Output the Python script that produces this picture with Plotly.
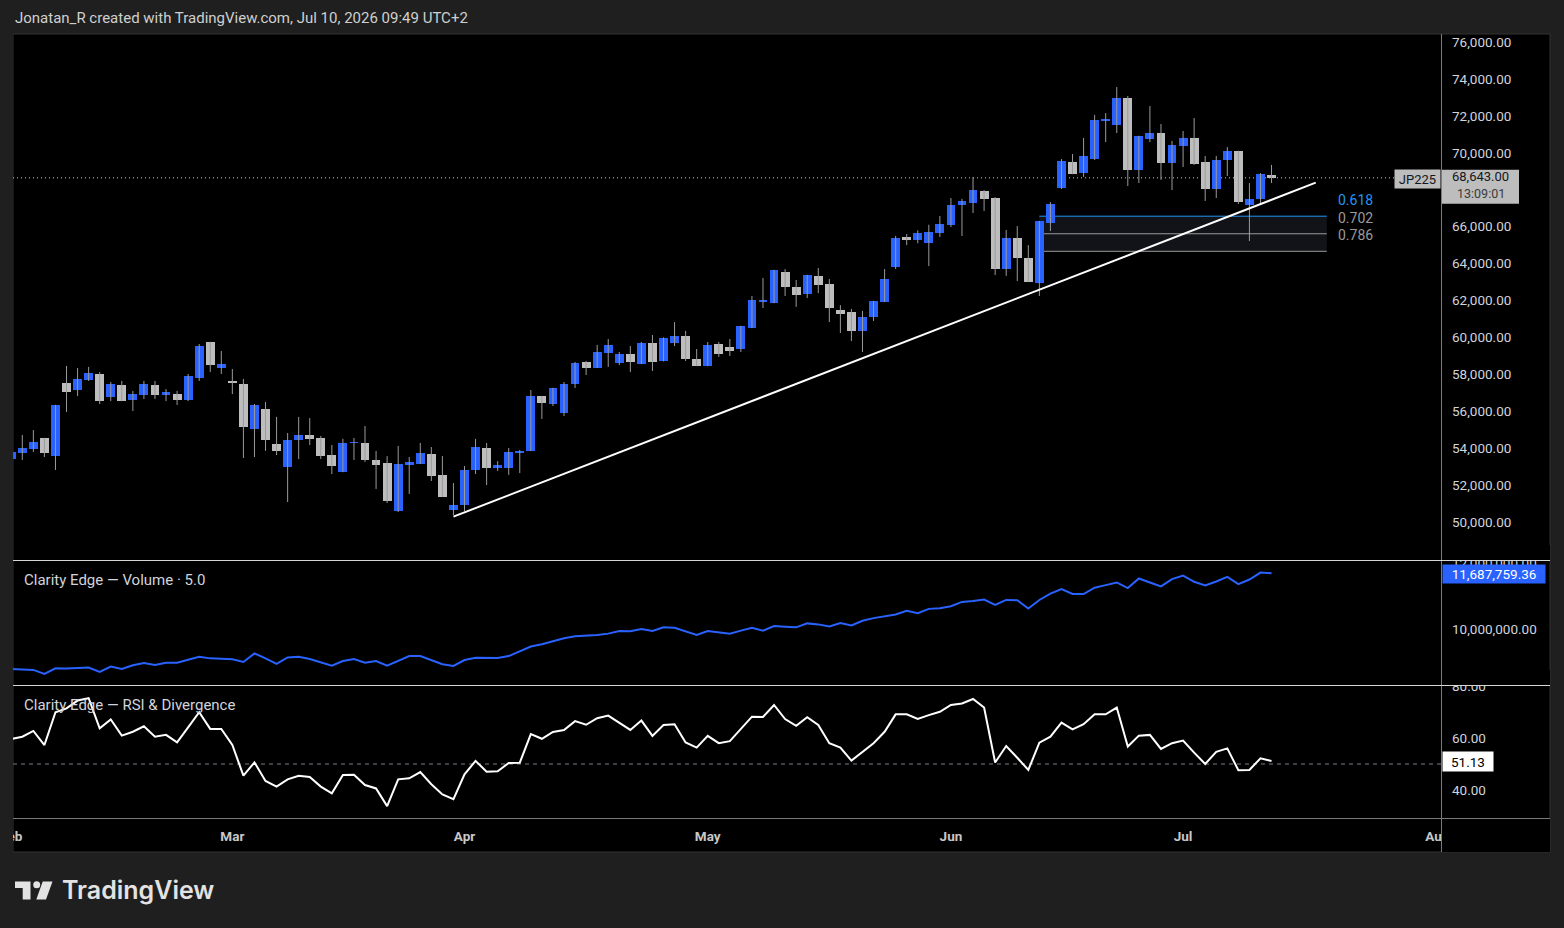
import plotly.graph_objects as go

W, H = 1564, 928


def X(px):
    return px / W


def Y(py):
    return 1 - py / H


# ---------------- data ----------------
months = ["Feb", "Mar", "Apr", "May", "Jun", "Jul", "Aug"]
month_idx = [0, 20, 41, 63, 85, 106, 129]

opens = [53430, 53740, 53950, 54550, 53570, 57530, 57150, 57690, 58020, 56770,
         57420, 56610, 56880, 57420, 56880, 56930, 56610, 57800, 59750, 58340,
         57590, 57470, 55040, 56120, 54220, 52980, 54440, 54710, 54550, 53630,
         52710, 54280, 54280, 53360, 53190, 50590, 53090, 53140, 53680, 52540,
         50650, 50920, 52820, 54010, 52920, 52920, 53760, 53850, 56820, 56390,
         55900, 57470, 58670, 58340, 59150, 58610, 59100, 58560, 59700, 58720,
         59700, 60080, 58830, 58450, 59640, 59480, 59370, 60510, 61950, 61860,
         63540, 62730, 62350, 63330, 62890, 61480, 61370, 60350, 61100, 61920,
         63810, 65440, 65280, 65110, 65670, 66090, 67170, 67280, 67930, 67550,
         63700, 65380, 64300, 62950, 66200, 68090, 69500, 68900, 69660, 71740,
         71500, 72970, 69070, 70750, 71070, 69450, 70370, 70800, 69500, 68040,
         69610, 70100, 67170, 67500, 68800]
highs = [53850, 54710, 54980, 54560, 56350, 58450, 58340, 58400, 58120, 57580,
         57640, 57100, 57640, 57640, 57200, 57100, 58020, 59640, 59760, 59260,
         58290, 57750, 56390, 56500, 55690, 54820, 55690, 55630, 54660, 54170,
         54500, 54550, 55200, 53850, 53570, 54120, 53520, 54280, 54060, 53570,
         52110, 53030, 54500, 54280, 53300, 54010, 53900, 57150, 56830, 57270,
         57580, 58670, 58720, 59590, 59910, 59210, 59530, 59750, 60130, 60000,
         60830, 60350, 59370, 59750, 59750, 59910, 60630, 62240, 63220, 63660,
         63700, 63110, 63390, 63760, 63160, 61750, 61540, 61430, 61980, 63700,
         65500, 65600, 65800, 66100, 66570, 67550, 67500, 68690, 67980, 67600,
         65820, 66030, 65000, 66310, 67330, 69660, 69930, 70800, 72050, 72150,
         73560, 73080, 70920, 72530, 71560, 70640, 71180, 71880, 69830, 69830,
         70310, 70110, 68360, 68900, 69340]
lows = [53380, 53360, 53790, 53520, 52820, 55960, 56820, 57640, 56390, 56550,
        56550, 56010, 56660, 56660, 56550, 56340, 56550, 57640, 58120, 58020,
        56930, 53470, 53520, 53850, 53630, 51080, 53410, 54170, 53410, 52600,
        52700, 53360, 53250, 51790, 51030, 50540, 51520, 53140, 52220, 51350,
        50380, 50590, 52600, 52000, 52760, 52550, 52650, 53840, 55580, 56280,
        55740, 57260, 57960, 58340, 58400, 58500, 58120, 58550, 58180, 58700,
        59530, 58720, 58440, 58440, 58940, 58990, 59210, 60500, 61590, 61850,
        62240, 61650, 62130, 62400, 60830, 60240, 59800, 59210, 60890, 61910,
        63700, 65000, 65100, 63860, 65440, 65980, 65490, 66740, 66850, 63380,
        63330, 63050, 62990, 62240, 65760, 68040, 68840, 68690, 69610, 70580,
        71070, 68200, 68360, 70580, 68530, 67980, 69230, 69340, 67390, 67550,
        68740, 67220, 65220, 67220, 68360]
closes = [53790, 54010, 54330, 53740, 56340, 57040, 57745, 58070, 56550, 57470,
          56550, 56930, 57470, 56880, 57040, 56610, 57910, 59530, 58500, 58560,
          57580, 55150, 56340, 54440, 53850, 54440, 54710, 54500, 53570, 53030,
          54280, 54330, 53360, 53090, 51140, 53140, 53250, 53740, 52490, 51350,
          50920, 52820, 54060, 52920, 53090, 53790, 53790, 56820, 56450, 57260,
          57470, 58610, 58340, 59210, 59590, 59100, 58670, 59700, 58670, 59970,
          60080, 58830, 58450, 59590, 59100, 59260, 60620, 62020, 61980, 63650,
          62730, 62300, 63380, 62840, 61590, 61270, 60350, 61100, 61970, 63160,
          65380, 65280, 65650, 65710, 66140, 67170, 67390, 67980, 67500, 63700,
          65380, 64300, 63000, 66300, 67220, 69550, 68850, 69830, 71780, 71830,
          72970, 69070, 70910, 71070, 69450, 70420, 70800, 69390, 68040, 69610,
          70100, 67330, 67500, 68850, 68643]

volume_line = [8.79, 8.78, 8.76, 8.64, 8.81, 8.80, 8.82, 8.83, 8.70, 8.86,
               8.79, 8.90, 8.97, 8.91, 8.98, 8.98, 9.07, 9.16, 9.11, 9.09,
               9.08, 9.00, 9.26, 9.11, 8.94, 9.14, 9.16, 9.09, 8.98, 8.89,
               9.03, 9.09, 8.98, 9.03, 8.89, 9.03, 9.18, 9.18, 9.06, 8.93,
               8.88, 9.06, 9.13, 9.12, 9.12, 9.18, 9.32, 9.47, 9.54, 9.63,
               9.72, 9.78, 9.79, 9.82, 9.86, 9.94, 9.93, 10.00, 9.94, 10.05,
               10.04, 9.93, 9.82, 9.94, 9.90, 9.86, 9.95, 10.04, 9.95, 10.09,
               10.07, 10.05, 10.17, 10.14, 10.08, 10.18, 10.11, 10.25, 10.33, 10.39,
               10.44, 10.55, 10.48, 10.61, 10.63, 10.69, 10.82, 10.85, 10.89, 10.73,
               10.88, 10.87, 10.62, 10.88, 11.07, 11.21, 11.06, 11.06, 11.25, 11.33,
               11.41, 11.24, 11.53, 11.41, 11.29, 11.51, 11.62, 11.43, 11.32, 11.44,
               11.58, 11.36, 11.50, 11.71, 11.68775936]

rsi = [59.6, 60.5, 62.7, 57.3, 69.9, 71.4, 74.4, 75.3, 63.7, 67.1,
       60.9, 62.4, 64.5, 60.5, 61.2, 58.3, 64.1, 69.9, 63.5, 63.5,
       57.3, 45.5, 50.6, 43.5, 41.3, 44.1, 45.5, 45.0, 41.3, 38.7,
       45.8, 45.9, 41.9, 40.6, 33.8, 44.1, 44.5, 46.9, 42.2, 38.3,
       36.5, 46.0, 51.2, 47.0, 47.2, 50.4, 50.5, 61.5, 59.7, 62.3,
       63.1, 66.5, 65.1, 67.6, 68.6, 65.9, 63.1, 66.7, 60.8, 65.0,
       65.3, 58.3, 56.3, 60.8, 58.0, 58.8, 63.6, 68.2, 68.1, 72.7,
       67.3, 64.7, 68.0, 65.0, 58.0, 56.3, 51.3, 54.7, 58.0, 62.4,
       69.1, 69.1, 67.3, 68.8, 70.1, 72.7, 73.3, 75.0, 71.7, 50.6,
       56.9, 52.4, 47.7, 58.2, 60.5, 65.9, 63.3, 65.3, 69.1, 69.1,
       71.7, 56.7, 60.9, 61.2, 55.8, 58.0, 59.0, 54.4, 50.0, 54.7,
       56.0, 47.6, 47.7, 52.2, 51.13]

symbol = "JP225"
countdown = "13:09:01"
fib_high, fib_low = 73560, 62240
fib_ratios = [0.618, 0.702, 0.786]
fib_x = [93, 119]
trend_x = [40, 118]
trend_y = [50290, 68380]

price_ticks = [50000, 52000, 54000, 56000, 58000, 60000, 62000,
               64000, 66000, 68000, 70000, 72000, 74000, 76000]
vol_ticks = [10000000, 12000000]
rsi_ticks = [40, 60, 80]

# ---------------- styles ----------------
BG = "#1f1f1f"
UP = "#2962ff"
DOWN = "#bdbdbd"
WICK = "#9a9a9a"
TXT = "#d1d4dc"
FONT = "Roboto"
TICK_SIZE = 13.5

n = len(closes)
xs = list(range(n))
volume = [v * 1_000_000 for v in volume_line]

fig = go.Figure()

# wicks
wx, wy = [], []
for i in xs:
    wx += [i, i, None]
    wy += [lows[i], highs[i], None]
fig.add_trace(go.Scatter(x=wx, y=wy, mode="lines", line=dict(color=WICK, width=1),
                         hoverinfo="skip", showlegend=False))

# bodies
min_h = 45
bases, heights, colors = [], [], []
for o, c in zip(opens, closes):
    lo, hi = min(o, c), max(o, c)
    h = hi - lo
    if h < min_h:
        mid = (lo + hi) / 2
        lo, h = mid - min_h / 2, min_h
    bases.append(lo)
    heights.append(h)
    colors.append(UP if c >= o else DOWN)
fig.add_trace(go.Bar(x=xs, y=heights, base=bases, width=0.8,
                     marker=dict(color=colors, line=dict(width=0)),
                     showlegend=False, hoverinfo="skip"))

# trendline
fig.add_trace(go.Scatter(x=trend_x, y=trend_y, mode="lines",
                         line=dict(color="#ffffff", width=2), showlegend=False,
                         hoverinfo="skip"))

# volume indicator line
fig.add_trace(go.Scatter(x=xs, y=volume, mode="lines", line=dict(color=UP, width=2),
                         xaxis="x2", yaxis="y2", showlegend=False, hoverinfo="skip"))

# rsi line
fig.add_trace(go.Scatter(x=xs, y=rsi, mode="lines", line=dict(color="#ffffff", width=2),
                         xaxis="x3", yaxis="y3", showlegend=False, hoverinfo="skip"))

shapes = []
# chart background
shapes.append(dict(type="rect", xref="paper", yref="paper", x0=X(13), x1=X(1550),
                   y0=Y(852), y1=Y(34), fillcolor="#000000",
                   line=dict(color="#333333", width=1), layer="below"))

# fib zone
levels = [fib_high - r * (fib_high - fib_low) for r in fib_ratios]
shapes.append(dict(type="rect", xref="x", yref="y", x0=fib_x[0], x1=fib_x[1],
                   y0=levels[-1], y1=levels[0], fillcolor="#121318",
                   line=dict(width=0), layer="below"))
fib_colors = ["#2196f3", "#9a9a9a", "#9a9a9a"]
for lv, col in zip(levels, fib_colors):
    shapes.append(dict(type="line", xref="x", yref="y", x0=fib_x[0], x1=fib_x[1],
                       y0=lv, y1=lv, line=dict(color=col, width=1), layer="below"))

# last price dotted line
shapes.append(dict(type="line", xref="paper", yref="y", x0=X(13), x1=X(1395),
                   y0=closes[-1], y1=closes[-1],
                   line=dict(color="#c8c8c8", width=1, dash="1px,3px"), layer="below"))
# rsi mid line
shapes.append(dict(type="line", xref="paper", yref="y3", x0=X(13), x1=X(1441),
                   y0=50, y1=50, line=dict(color="#787b86", width=1, dash="4px,4px"),
                   layer="below"))

# covers (clip overflow)
shapes.append(dict(type="rect", xref="paper", yref="paper", x0=0, x1=X(13), y0=0, y1=1,
                   fillcolor=BG, line=dict(width=0), layer="above"))
shapes.append(dict(type="rect", xref="paper", yref="paper", x0=X(1441.5), x1=X(1550),
                   y0=Y(852), y1=Y(818.5), fillcolor="#000000", line=dict(width=0),
                   layer="above"))
shapes.append(dict(type="rect", xref="paper", yref="paper", x0=X(1442), x1=X(1550),
                   y0=Y(560.5), y1=Y(545), fillcolor="#000000", line=dict(width=0),
                   layer="above"))
shapes.append(dict(type="rect", xref="paper", yref="paper", x0=X(1442), x1=X(1550),
                   y0=Y(685.5), y1=Y(670), fillcolor="#000000", line=dict(width=0),
                   layer="above"))

# separators
shapes.append(dict(type="line", xref="paper", yref="paper", x0=X(1441.5), x1=X(1441.5),
                   y0=Y(852), y1=Y(34), line=dict(color="#7a7a7a", width=1), layer="above"))
for yy in (560.5, 685.5):
    shapes.append(dict(type="line", xref="paper", yref="paper", x0=X(13), x1=X(1550),
                       y0=Y(yy), y1=Y(yy), line=dict(color="#d6d6d6", width=1),
                       layer="above"))
shapes.append(dict(type="line", xref="paper", yref="paper", x0=X(13), x1=X(1550),
                   y0=Y(818.5), y1=Y(818.5), line=dict(color="#7a7a7a", width=1),
                   layer="above"))

# last-price label background (anchored at last close, sized in pixels)
LBL = "#bdbdbd"
shapes.append(dict(type="rect", xref="paper", yref="y", ysizemode="pixel",
                   yanchor=closes[-1], y0=-26, y1=8, x0=X(1442), x1=X(1519),
                   fillcolor=LBL, line=dict(width=0), layer="above"))

# TradingView logo glyph
LOGO = "#e3e3e3"


def path(pts):
    return "M " + " L ".join(f"{X(a)},{Y(b)}" for a, b in pts) + " Z"


shapes.append(dict(type="path", xref="paper", yref="paper",
                   path=path([(15, 881.5), (30.5, 881.5), (30.5, 899.5), (22.7, 899.5),
                              (22.7, 888), (15, 888)]),
                   fillcolor=LOGO, line=dict(width=0), layer="above"))
shapes.append(dict(type="circle", xref="paper", yref="paper", x0=X(33.2), x1=X(40.2),
                   y0=Y(888.2), y1=Y(881.2), fillcolor=LOGO, line=dict(width=0),
                   layer="above"))
shapes.append(dict(type="path", xref="paper", yref="paper",
                   path=path([(42.7, 881.5), (52.5, 881.5), (46, 899.5), (36.3, 899.5)]),
                   fillcolor=LOGO, line=dict(width=0), layer="above"))

annotations = []
annotations.append(dict(text="Jonatan_R created with TradingView.com, Jul 10, 2026 09:49 UTC+2",
                        xref="paper", yref="paper", x=X(13), y=Y(18), xanchor="left",
                        yanchor="middle", showarrow=False,
                        font=dict(family=FONT, size=15, color="#cfcfcf")))
annotations.append(dict(text="TradingView", xref="paper", yref="paper", x=X(60), y=Y(890),
                        xanchor="left", yanchor="middle", showarrow=False,
                        font=dict(family="Inter", size=25, color=LOGO, weight=600)))
annotations.append(dict(text="Clarity Edge — Volume · 5.0", xref="paper", yref="paper",
                        x=X(22), y=Y(580), xanchor="left", yanchor="middle", showarrow=False,
                        font=dict(family=FONT, size=15, color=TXT)))
annotations.append(dict(text="Clarity Edge — RSI & Divergence", xref="paper", yref="paper",
                        x=X(22), y=Y(705), xanchor="left", yanchor="middle", showarrow=False,
                        font=dict(family=FONT, size=15, color=TXT)))
# fib labels
for r, lv, col in zip(fib_ratios, levels, fib_colors):
    annotations.append(dict(text=f"{r:.3f}", xref="x", yref="y", x=fib_x[1], y=lv,
                            xanchor="left", yanchor="middle", xshift=9, yshift=16,
                            showarrow=False, font=dict(family=FONT, size=14, color=col)))
# price labels
annotations.append(dict(text=symbol, xref="paper", yref="y", x=X(1441), y=closes[-1],
                        xanchor="right", yanchor="middle", yshift=-1, width=45, height=18,
                        bgcolor=LBL, borderpad=0, showarrow=False,
                        font=dict(family=FONT, size=13, color="#131722")))
annotations.append(dict(text=f"{closes[-1]:,.2f}", xref="paper", yref="y",
                        x=X(1480.5), y=closes[-1], xanchor="center", yanchor="middle",
                        yshift=1, showarrow=False,
                        font=dict(family=FONT, size=13, color="#131722")))
annotations.append(dict(text=countdown, xref="paper", yref="y",
                        x=X(1480.5), y=closes[-1], xanchor="center", yanchor="middle",
                        yshift=-16, showarrow=False,
                        font=dict(family=FONT, size=12.5, color="#3a3a3a")))
annotations.append(dict(text=f"{volume[-1]:,.2f}", xref="paper", yref="y2",
                        x=X(1442), y=volume[-1], xanchor="left", yanchor="middle", yshift=-1,
                        width=102, height=18, bgcolor=UP, borderpad=0, showarrow=False,
                        font=dict(family=FONT, size=13.5, color="#ffffff")))
annotations.append(dict(text=f"{rsi[-1]:.2f}", xref="paper", yref="y3",
                        x=X(1442), y=rsi[-1], xanchor="left", yanchor="middle",
                        width=50, height=19, bgcolor="#ffffff", borderpad=0, showarrow=False,
                        font=dict(family=FONT, size=13.5, color="#000000")))

x_range = [-11.25 / 11.055, (1441 - 11.25) / 11.055]
xcommon = dict(range=x_range, domain=[0, X(1441)], showgrid=False, zeroline=False,
               showline=False, fixedrange=True, automargin=False)
ycommon = dict(side="right", showgrid=False, zeroline=False, showline=False, ticks="",
               automargin=False, ticklabelstandoff=10,
               tickfont=dict(family=FONT, size=TICK_SIZE, color=TXT))

fig.update_layout(
    template="none",
    width=W, height=H, autosize=False,
    margin=dict(l=0, r=0, t=0, b=0, pad=0),
    paper_bgcolor=BG, plot_bgcolor="rgba(0,0,0,0)",
    showlegend=False, bargap=0,
    xaxis=dict(**xcommon, anchor="y", showticklabels=False),
    xaxis2=dict(**xcommon, anchor="y2", matches="x", showticklabels=False),
    xaxis3=dict(**xcommon, anchor="y3", matches="x", tickmode="array",
                tickvals=month_idx, ticktext=months, ticks="", ticklabelstandoff=8,
                tickfont=dict(family=FONT, size=13.5, color="#c8c8c8", weight="bold")),
    yaxis=dict(**ycommon, anchor="x", domain=[Y(560), Y(35)],
               range=[47941.5, 76379.2], tickmode="array", tickvals=price_ticks,
               ticktext=[f"{t:,.2f}" for t in price_ticks]),
    yaxis2=dict(**ycommon, anchor="x2", domain=[Y(685), Y(561)],
                range=[8303000, 12060600], tickmode="array", tickvals=vol_ticks,
                ticktext=[f"{t:,.2f}" for t in vol_ticks]),
    yaxis3=dict(**ycommon, anchor="x3", domain=[Y(818), Y(686)],
                range=[29.23, 80], tickmode="array", tickvals=rsi_ticks,
                ticktext=[f"{t:.2f}" for t in rsi_ticks]),
    shapes=shapes, annotations=annotations,
)

fig.write_html("out.html")
